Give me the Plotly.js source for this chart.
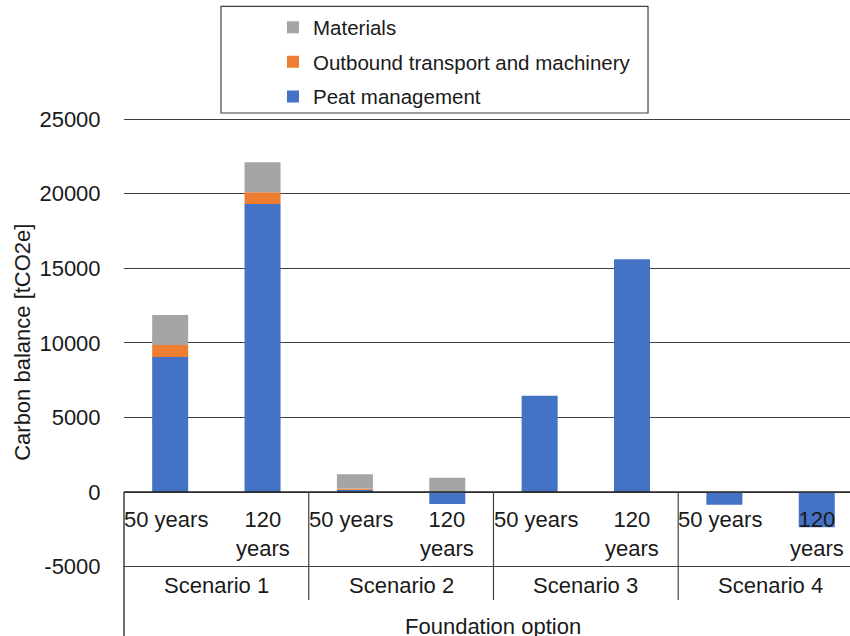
<!DOCTYPE html>
<html>
<head>
<meta charset="utf-8">
<script src="https://cdn.plot.ly/plotly-3.0.1.min.js"></script>
<style>
html,body{margin:0;padding:0;background:#fff;}
#chart{width:850px;height:636px;}
</style>
</head>
<body>
<div id="chart"></div>
<script>
// ---- data ----
const scenarios = ['Scenario 1', 'Scenario 2', 'Scenario 3', 'Scenario 4'];
const periods = ['50 years', '120 years'];
const periodLabels = ['50 years', '120<br>years'];
const peatManagement = [9050, 19300, 150, -800, 6450, 15600, -860, -2370];
const outboundTransport = [800, 790, 90, 0, 0, 0, 0, 0];
const materials = [2010, 2010, 950, 960, 0, 0, 0, 0];
const yTicks = [-5000, 0, 5000, 10000, 15000, 20000, 25000];
const yTickText = ['-5000', '0', '5000', '10000', '15000', '20000', '25000'];

// ---- build ----
const cats = [];
scenarios.forEach(s => periods.forEach(p => cats.push(s + ' | ' + p)));

const FONT = 'Liberation Sans, Arial, sans-serif';
const TXT = '#1a1a1a';
const plotH = 520;            // height of plot area in px
const yMax = 25201, yMin = -9651;
const pxToData = px => px * (yMax - yMin) / plotH;

const traces = [
  {name: 'Peat management', y: peatManagement, color: '#4472C4', g: 'c', rank: 3},
  {name: 'Outbound transport and machinery', y: outboundTransport, color: '#ED7D31', g: 'b', rank: 2},
  {name: 'Materials', y: materials, color: '#A5A5A5', g: 'a', rank: 1}
].map(t => ({
  type: 'bar', x: cats, y: t.y, name: t.name, legendgroup: t.g, legendrank: t.rank,
  marker: {color: t.color, line: {width: 0}},
  hoverinfo: 'name+y'
}));

const annotations = [];
cats.forEach((c, i) => {
  const isShort = (i % 2 === 0);
  annotations.push({
    xref: 'x', yref: 'y', x: i, y: 0, yanchor: 'top', xanchor: 'center',
    yshift: -13, xshift: isShort ? -4 : 0,
    text: periodLabels[i % 2], showarrow: false, align: 'center',
    font: {family: FONT, size: 22, color: TXT}
  });
});
scenarios.forEach((s, j) => {
  annotations.push({
    xref: 'x', yref: 'y', x: 2 * j + 0.5, y: 0, yanchor: 'middle', xanchor: 'center',
    yshift: -93, text: s, showarrow: false,
    font: {family: FONT, size: 22, color: TXT}
  });
});
annotations.push({
  xref: 'x', yref: 'y', x: (cats.length - 1) / 2, y: 0, yanchor: 'middle', xanchor: 'center',
  yshift: -134, text: 'Foundation option', showarrow: false,
  font: {family: FONT, size: 22, color: TXT}
});
// y-axis title, centred on the -5000..25000 span
annotations.push({
  xref: 'paper', yref: 'y', x: -0.1391, y: (yTicks[0] + yTicks[yTicks.length - 1]) / 2,
  xanchor: 'center', yanchor: 'middle', textangle: -90,
  text: 'Carbon balance [tCO2e]', showarrow: false,
  font: {family: FONT, size: 22, color: TXT}
});

const shapes = [
  // category axis line at zero
  {type: 'line', xref: 'paper', yref: 'y', x0: 0, x1: 1, y0: 0, y1: 0,
   line: {color: '#262626', width: 1.3}, layer: 'above'},
  // left border of the label table
  {type: 'line', xref: 'paper', yref: 'y', x0: 0, x1: 0, y0: 0, y1: yMin,
   line: {color: '#262626', width: 1.3}, layer: 'above'},
  // legend frame
  {type: 'rect', xref: 'paper', yref: 'paper', x0: 0.1336, x1: 0.7218, y0: 1.0058, y1: 1.2108,
   line: {color: '#404040', width: 1.2}, fillcolor: 'rgba(0,0,0,0)', layer: 'above'}
];
for (let j = 1; j < scenarios.length; j++) {
  const xb = 2 * j - 0.5;
  shapes.push({type: 'line', xref: 'x', yref: 'y', x0: xb, x1: xb, y0: 0, y1: -pxToData(108),
    line: {color: '#404040', width: 1.2}, layer: 'above'});
}

const layout = {
  width: 850, height: 636,
  margin: {l: 124, r: 0, t: 116, b: 0, pad: 0},
  paper_bgcolor: '#fff', plot_bgcolor: '#fff',
  barmode: 'relative', bargap: 0.61,
  font: {family: FONT, size: 22, color: TXT},
  xaxis: {
    type: 'category', categoryorder: 'array', categoryarray: cats,
    range: [-0.5, 7.36], showticklabels: false, showgrid: false, zeroline: false,
    showline: false, ticks: '', fixedrange: true
  },
  yaxis: {
    range: [yMin, yMax], tickmode: 'array', tickvals: yTicks, ticktext: yTickText,
    showgrid: true, gridcolor: '#404040', gridwidth: 1, zeroline: false, showline: false,
    ticks: 'outside', ticklen: 18, tickcolor: 'rgba(0,0,0,0)',
    tickfont: {family: FONT, size: 22, color: TXT},
    automargin: false, fixedrange: true
  },
  showlegend: true,
  legend: {
    x: 0.2052, xanchor: 'left', y: 1.2089, yanchor: 'top',
    bgcolor: 'rgba(0,0,0,0)', borderwidth: 0,
    traceorder: 'grouped', tracegroupgap: 5, itemwidth: 30,
    font: {family: FONT, size: 20.5, color: TXT}
  },
  shapes: shapes,
  annotations: annotations
};

Plotly.newPlot('chart', traces, layout, {displayModeBar: false, staticPlot: true});
</script>
</body>
</html>
